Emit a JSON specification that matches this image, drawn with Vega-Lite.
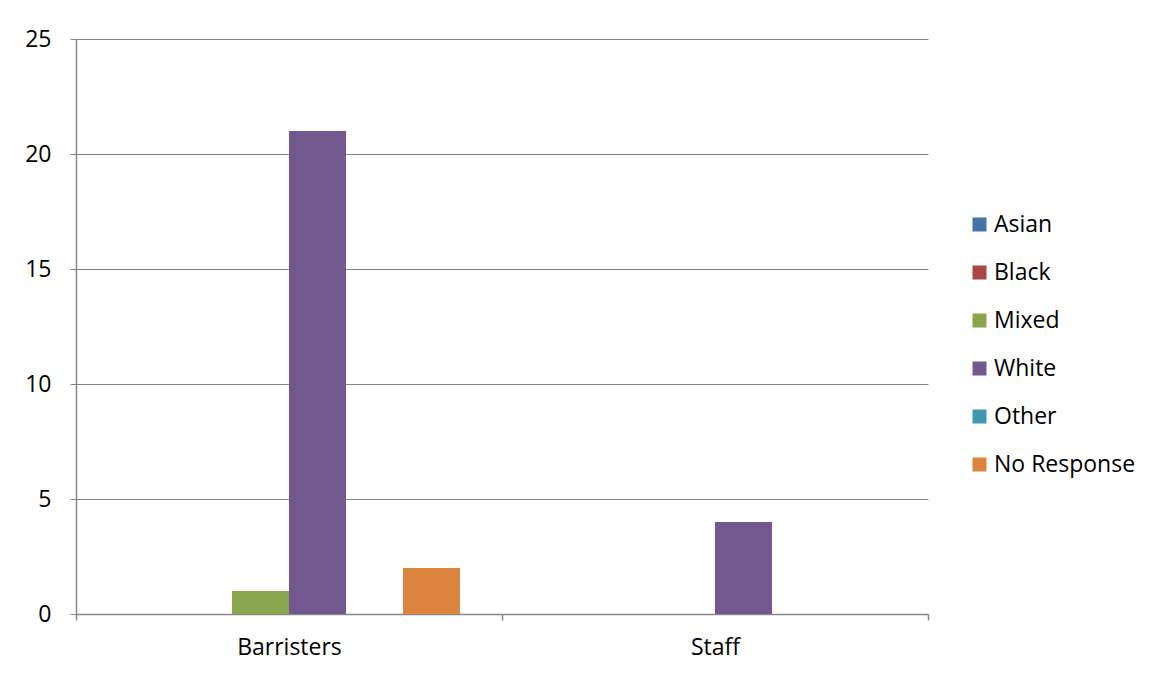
{
  "$schema": "https://vega.github.io/schema/vega-lite/v6.json",
  "autosize": {"type": "none"},
  "padding": {"left": 76, "top": 39, "right": 225, "bottom": 60},
  "width": 852,
  "height": 575,
  "background": "white",
  "config": {
    "font": "Open Sans",
    "view": {"stroke": null},
    "axis": {"labelFont": "Open Sans", "labelColor": "#000000", "domainColor": "#868686", "tickColor": "#868686", "gridColor": "#868686"},
    "legend": {"labelFont": "Open Sans"}
  },
  "data": {
    "values": [
      {"group": "Barristers", "ethnicity": "Asian", "count": 0},
      {"group": "Barristers", "ethnicity": "Black", "count": 0},
      {"group": "Barristers", "ethnicity": "Mixed", "count": 1},
      {"group": "Barristers", "ethnicity": "White", "count": 21},
      {"group": "Barristers", "ethnicity": "Other", "count": 0},
      {"group": "Barristers", "ethnicity": "No Response", "count": 2},
      {"group": "Staff", "ethnicity": "Asian", "count": 0},
      {"group": "Staff", "ethnicity": "Black", "count": 0},
      {"group": "Staff", "ethnicity": "Mixed", "count": 0},
      {"group": "Staff", "ethnicity": "White", "count": 4},
      {"group": "Staff", "ethnicity": "Other", "count": 0},
      {"group": "Staff", "ethnicity": "No Response", "count": 0}
    ]
  },
  "mark": {"type": "bar"},
  "encoding": {
    "x": {
      "field": "group", "type": "nominal", "title": null,
      "scale": {"paddingInner": 0, "paddingOuter": 0},
      "axis": {"labelAngle": 0, "labelFontSize": 23, "labelPadding": 16, "tickBand": "extent", "tickSize": 6, "domainWidth": 1.5, "tickWidth": 1.5}
    },
    "xOffset": {
      "field": "ethnicity", "type": "nominal",
      "sort": ["Asian", "Black", "Mixed", "White", "Other", "No Response"],
      "scale": {"paddingInner": 0, "paddingOuter": 0.737}
    },
    "y": {
      "field": "count", "type": "quantitative", "title": null,
      "scale": {"domain": [0, 25], "nice": false},
      "axis": {"values": [0, 5, 10, 15, 20, 25], "labelFontSize": 23, "labelPadding": 19, "tickSize": 6, "grid": true, "gridWidth": 1, "domainWidth": 1.5}
    },
    "color": {
      "field": "ethnicity", "type": "nominal",
      "sort": ["Asian", "Black", "Mixed", "White", "Other", "No Response"],
      "scale": {"domain": ["Asian", "Black", "Mixed", "White", "Other", "No Response"], "range": ["#4572A7", "#AA4643", "#89A54E", "#71588F", "#4198AF", "#DB843D"]},
      "legend": {"title": null, "orient": "none", "legendX": 892, "legendY": 174, "symbolType": "square", "symbolSize": 196, "symbolStrokeWidth": 0, "labelFontSize": 23, "labelColor": "#000000", "rowPadding": 24, "labelOffset": 3, "labelLimit": 300}
    }
  }
}
